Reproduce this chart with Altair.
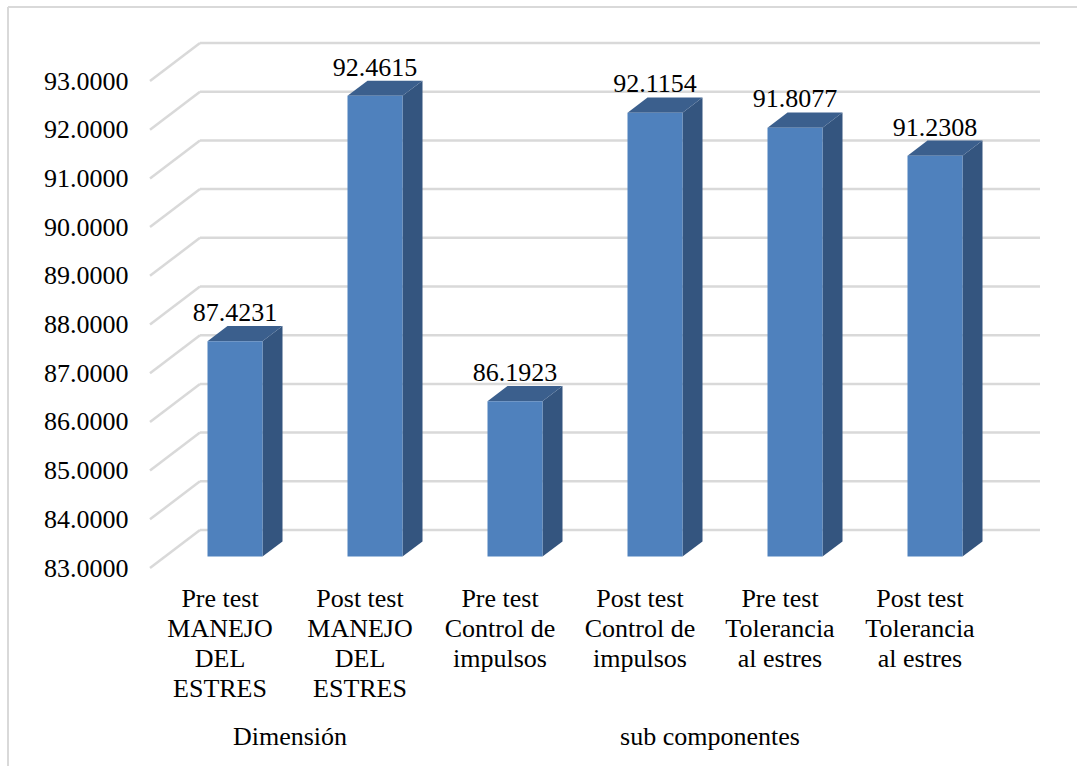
import altair as alt
import pandas as pd

# Category labels (one list of lines per bar), values and axis ticks
categories = [
    ["Pre test", "MANEJO", "DEL", "ESTRES"],
    ["Post test", "MANEJO", "DEL", "ESTRES"],
    ["Pre test", "Control de", "impulsos"],
    ["Post test", "Control de", "impulsos"],
    ["Pre test", "Tolerancia", "al estres"],
    ["Post test", "Tolerancia", "al estres"],
]
values = [87.4231, 92.4615, 86.1923, 92.1154, 91.8077, 91.2308]
group_names = ["Dimensión", "sub componentes"]
group_slots = [[0, 1], [2, 3, 4, 5]]
tick_values = [83, 84, 85, 86, 87, 88, 89, 90, 91, 92, 93]

# Layout of the pseudo-3D plot (pixels)
PLOT_W, PLOT_H = 890, 487
PAD_L, PAD_T = 150, 81
SLOT_PX = 140
DEPTH_X_PX, DEPTH_Y_PX = 50, 38
Y_MIN, Y_MAX = 83, 93
PX_PER_Y = PLOT_H / (Y_MAX - Y_MIN)

# depth expressed in data units of each scale
DXU = DEPTH_X_PX / SLOT_PX
DYU = DEPTH_Y_PX / PX_PER_Y
BAR_W = 55 / SLOT_PX
FRONT_F, DEPTH_F = 0.3, 0.4

FONT = "Liberation Serif"
FS = 26
GRID = "#d9d9d9"
C_FRONT, C_SIDE, C_TOP = "#4f81bd", "#34557f", "#3b5f8d"

xs = alt.Scale(domain=[0, PLOT_W / SLOT_PX], nice=False, zero=False)
ys = alt.Scale(domain=[Y_MIN, Y_MAX], nice=False, zero=False)
y_axis = alt.Axis(
    values=tick_values, format=".4f", labelFont=FONT, labelFontSize=FS,
    labelColor="black", labelPadding=22, ticks=False, domain=False,
    grid=False, title=None,
)

front_rows, side_rows, top_rows, label_rows = [], [], [], []
for i, v in enumerate(values):
    c = i + 0.5
    xl = c - BAR_W / 2 + FRONT_F * DXU
    xr = xl + BAR_W
    bot = Y_MIN + FRONT_F * DYU
    top = v + FRONT_F * DYU
    front_rows.append({"id": i, "xl": xl, "xr": xr, "top": top, "bot": bot,
                       "xc": (xl + xr) / 2, "v": v, "ylab": v + (FRONT_F + DEPTH_F) * DYU})
    side_rows += [
        {"id": i, "x": xr, "y": top, "y2": bot},
        {"id": i, "x": xr + DEPTH_F * DXU, "y": top + DEPTH_F * DYU, "y2": bot + DEPTH_F * DYU},
    ]
    top_rows += [
        {"id": i, "y": top, "x": xl, "x2": xr},
        {"id": i, "y": top + DEPTH_F * DYU, "x": xl + DEPTH_F * DXU, "x2": xr + DEPTH_F * DXU},
    ]
    label_rows.append({"xc": c, "base": Y_MIN, "label": "\n".join(categories[i])})

front_df = pd.DataFrame(front_rows)
side_df = pd.DataFrame(side_rows)
top_df = pd.DataFrame(top_rows)
label_df = pd.DataFrame(label_rows)
group_df = pd.DataFrame({
    "name": group_names,
    "xc": [sum(s + 0.5 for s in g) / len(g) for g in group_slots],
    "base": [Y_MIN] * len(group_names),
})
grid_df = pd.DataFrame({"t": tick_values, "x0": 0.0, "xa": DXU, "xb": 6 + DXU})


def X(field):
    return alt.X(field, scale=xs, axis=None)


def Y(field):
    return alt.Y(field, scale=ys, axis=y_axis)


# chart border: left and top edges only
one = pd.DataFrame({"k": [0]})
frame_left = alt.Chart(one).mark_rule(stroke=GRID, strokeWidth=2).encode(
    x=alt.value(8 - PAD_L), y=alt.value(7 - PAD_T), y2=alt.value(766 - PAD_T)
)
frame_top = alt.Chart(one).mark_rule(stroke=GRID, strokeWidth=2).encode(
    x=alt.value(8 - PAD_L), x2=alt.value(1077 - PAD_L), y=alt.value(7 - PAD_T)
)

# back-wall gridlines
back_grid = alt.Chart(grid_df).mark_rule(
    color=GRID, strokeWidth=2.5, yOffset=-DEPTH_Y_PX, y2Offset=-DEPTH_Y_PX
).encode(x=X("xa:Q"), x2="xb:Q", y=Y("t:Q"))

# diagonals from the value axis to the back wall
diag_grid = alt.Chart(grid_df).mark_rule(
    color=GRID, strokeWidth=2.5, y2Offset=-DEPTH_Y_PX
).encode(x=X("x0:Q"), x2="xa:Q", y=Y("t:Q"), y2="t:Q")

side = alt.Chart(side_df).mark_area(orient="vertical", color=C_SIDE).encode(
    x=X("x:Q"), y=Y("y:Q"), y2="y2:Q", detail="id:N",
)

top_face = alt.Chart(top_df).mark_area(orient="horizontal", color=C_TOP).encode(
    y=Y("y:Q"), x=X("x:Q"), x2="x2:Q", detail="id:N",
)

front = alt.Chart(front_df).mark_rect(color=C_FRONT).encode(
    x=X("xl:Q"), x2="xr:Q", y=Y("top:Q"), y2="bot:Q",
)

value_text = alt.Chart(front_df).mark_text(
    font=FONT, fontSize=FS, baseline="alphabetic", align="center", dy=-5, color="black"
).encode(x=X("xc:Q"), y=Y("ylab:Q"), text=alt.Text("v:Q", format=".4f"))

cat_text = alt.Chart(label_df).mark_text(
    font=FONT, fontSize=FS, baseline="alphabetic", align="center",
    dy=39, lineBreak="\n", lineHeight=30, color="black"
).encode(x=X("xc:Q"), y=Y("base:Q"), text="label:N")

group_text = alt.Chart(group_df).mark_text(
    font=FONT, fontSize=FS, baseline="alphabetic", align="center", dy=177, color="black"
).encode(x=X("xc:Q"), y=Y("base:Q"), text="name:N")

chart = alt.layer(
    frame_left, frame_top, back_grid, diag_grid, side, top_face, front,
    value_text, cat_text, group_text
).properties(
    width=PLOT_W, height=PLOT_H,
    autosize=alt.AutoSizeParams(type="none"),
    padding={"left": PAD_L, "top": PAD_T, "right": 1078 - PAD_L - PLOT_W,
             "bottom": 767 - PAD_T - PLOT_H},
    background="white",
).configure_view(stroke=None)

chart.save("out.html", embed_options={"renderer": "svg", "actions": False})
